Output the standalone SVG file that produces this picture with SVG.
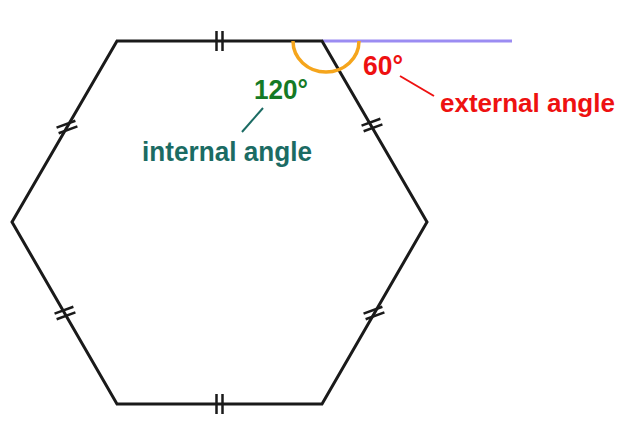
<svg xmlns="http://www.w3.org/2000/svg" width="621" height="427" viewBox="0 0 621 427">
<style>
.edge{fill:none;stroke:#1a1a1a;stroke-width:3;stroke-linejoin:miter}
.tick{stroke:#1a1a1a;stroke-width:2.5}
.lbl{font-family:"Liberation Sans",Arial,sans-serif;font-weight:bold;font-size:28px}
.sm{font-size:26px}
</style>
<rect width="621" height="427" fill="#ffffff"/>
<g id="extension">
<line x1="322" y1="41" x2="512" y2="41" stroke="#9b8cf2" stroke-width="3"/>
</g>
<g id="hexagon">
<polygon class="edge" points="117,41 322,41 427,222 322,404 117,404 12,222"/>
</g>
<g id="ticks">
<line class="tick" x1="216.5" y1="31" x2="216.5" y2="51"/>
<line class="tick" x1="222.5" y1="31" x2="222.5" y2="51"/>
<line class="tick" x1="216.5" y1="394" x2="216.5" y2="414"/>
<line class="tick" x1="222.5" y1="394" x2="222.5" y2="414"/>
<g transform="translate(67,127) rotate(-20)"><line class="tick" x1="-10" y1="-3" x2="10" y2="-3"/><line class="tick" x1="-10" y1="3" x2="10" y2="3"/></g>
<g transform="translate(65,313) rotate(-20)"><line class="tick" x1="-10" y1="-3" x2="10" y2="-3"/><line class="tick" x1="-10" y1="3" x2="10" y2="3"/></g>
<g transform="translate(372,125) rotate(-20)"><line class="tick" x1="-10" y1="-3" x2="10" y2="-3"/><line class="tick" x1="-10" y1="3" x2="10" y2="3"/></g>
<g transform="translate(374,313) rotate(-20)"><line class="tick" x1="-10" y1="-3" x2="10" y2="-3"/><line class="tick" x1="-10" y1="3" x2="10" y2="3"/></g>
</g>
<g id="angle-arc">
<path d="M 293 41 A 33 31 0 0 0 359 41" fill="none" stroke="#f5a51c" stroke-width="3.5"/>
</g>
<g id="connectors">
<line x1="263" y1="108" x2="242" y2="132" stroke="#1b6b63" stroke-width="2"/>
<line x1="400" y1="76" x2="434" y2="96" stroke="#ee1111" stroke-width="2"/>
</g>
<g id="internal-label">
<text class="lbl" x="254" y="99" fill="#157a25" textLength="54" lengthAdjust="spacingAndGlyphs">120°</text>
<text class="lbl" x="142" y="161" fill="#1b6b63" textLength="170" lengthAdjust="spacingAndGlyphs">internal angle</text>
</g>
<g id="external-label">
<text class="lbl" x="363" y="75" fill="#ee1111" textLength="40" lengthAdjust="spacingAndGlyphs">60°</text>
<text class="lbl sm" x="440" y="112" fill="#ee1111">external angle</text>
</g>
</svg>
